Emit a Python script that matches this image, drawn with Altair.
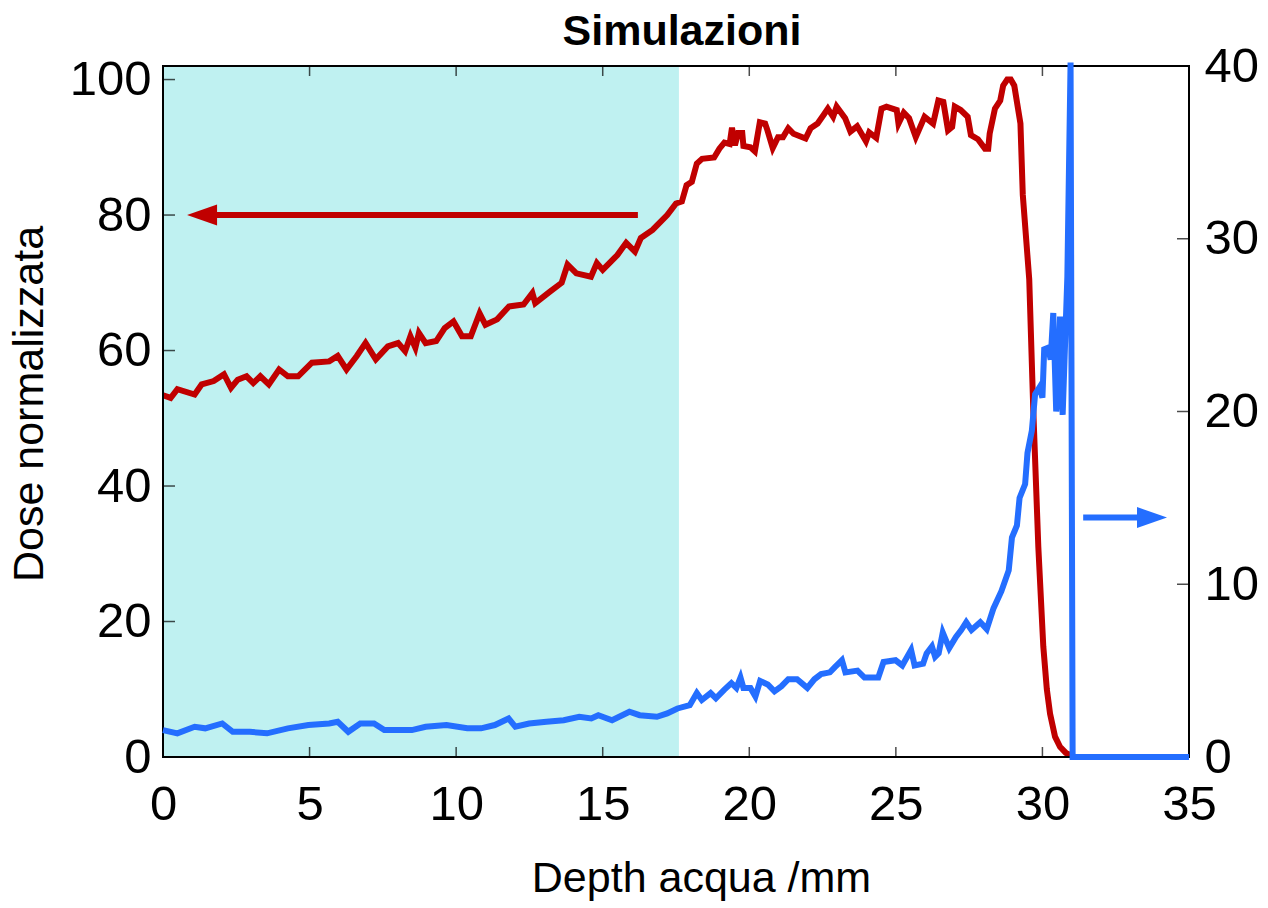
import altair as alt
import pandas as pd

# ---------------- data ----------------
depth_red = [0.0, 0.26, 0.49, 1.08, 1.32, 1.73, 2.08, 2.32, 2.55, 2.85,
             3.08, 3.32, 3.61, 3.96, 4.26, 4.61, 5.08, 5.67, 5.96, 6.26,
             6.61, 6.91, 7.26, 7.67, 8.02, 8.26, 8.44, 8.61, 8.73, 8.96,
             9.32, 9.61, 9.91, 10.2, 10.5, 10.8, 11.0, 11.4, 11.8, 12.3,
             12.6, 12.7, 13.2, 13.6, 13.8, 14.1, 14.6, 14.8, 15.0, 15.5,
             15.8, 16.1, 16.3, 16.7, 17.2, 17.5, 17.7, 17.86, 18.04, 18.21,
             18.39, 18.8, 18.98, 19.15, 19.33, 19.41, 19.51, 19.62, 19.76, 19.8,
             20.04, 20.19, 20.36, 20.54, 20.62, 20.8, 20.98, 21.15, 21.33, 21.51,
             21.92, 22.09, 22.33, 22.54, 22.68, 22.86, 22.98, 23.27, 23.45, 23.68,
             23.98, 24.09, 24.33, 24.51, 24.68, 25.03, 25.09, 25.27, 25.45, 25.68,
             25.98, 26.27, 26.45, 26.62, 26.78, 26.92, 27.01, 27.21, 27.45, 27.56,
             27.8, 28.04, 28.15, 28.2, 28.38, 28.56, 28.66, 28.8, 28.92, 29.04,
             29.25, 29.33, 29.55, 29.69, 29.86, 30.03, 30.15, 30.26, 30.43, 30.6,
             30.8, 31.0, 31.1]
dose_red = [53.4, 53.0, 54.3, 53.5, 55.0, 55.5, 56.5, 54.5, 55.7, 56.2,
            55.2, 56.2, 55.0, 57.2, 56.2, 56.2, 58.2, 58.4, 59.2, 57.2,
            59.2, 61.1, 58.7, 60.6, 61.1, 59.9, 62.1, 60.4, 62.6, 61.1,
            61.4, 63.3, 64.3, 62.1, 62.1, 65.5, 63.8, 64.6, 66.5, 66.8,
            68.5, 67.0, 68.7, 70.0, 72.7, 71.4, 70.9, 72.9, 71.9, 74.1,
            75.9, 74.6, 76.6, 77.8, 80.0, 81.7, 82.0, 84.4, 84.9, 87.6,
            88.3, 88.5, 89.8, 90.7, 90.5, 92.9, 90.3, 92.1, 92.1, 90.2,
            90.0, 89.4, 93.7, 93.5, 92.5, 89.9, 91.5, 91.5, 92.8, 92.0,
            91.3, 92.8, 93.5, 94.8, 95.7, 94.5, 96.0, 94.3, 92.3, 93.1,
            90.9, 92.2, 91.4, 95.7, 96.0, 95.5, 93.5, 95.1, 94.3, 91.5,
            94.5, 93.5, 96.9, 96.7, 92.5, 93.0, 96.0, 95.5, 94.5, 91.8,
            91.2, 89.8, 89.8, 92.0, 95.7, 96.9, 99.1, 100.0, 100.0, 99.1,
            93.5, 83.0, 70.5, 51.0, 31.0, 16.3, 10.0, 6.4, 3.0, 1.5,
            0.6, 0.2, 0.0]

depth_blue = [0.0, 0.49, 1.08, 1.44, 2.02, 2.38, 2.96, 3.55, 4.26, 4.96,
              5.67, 5.96, 6.32, 6.73, 7.2, 7.55, 8.49, 8.96, 9.67, 10.38,
              10.85, 11.32, 11.79, 12.02, 12.49, 13.08, 13.67, 14.2, 14.61, 14.85,
              15.32, 15.91, 16.26, 16.85, 17.2, 17.55, 17.97, 18.21, 18.38, 18.68,
              18.86, 19.15, 19.39, 19.56, 19.7, 19.8, 20.04, 20.21, 20.37, 20.63,
              20.86, 21.1, 21.33, 21.63, 21.98, 22.22, 22.45, 22.75, 22.92, 23.16,
              23.28, 23.69, 23.93, 24.4, 24.58, 24.99, 25.22, 25.52, 25.64, 25.93,
              26.05, 26.23, 26.34, 26.46, 26.6, 26.82, 27.05, 27.23, 27.4, 27.58,
              27.88, 28.1, 28.33, 28.6, 28.85, 28.96, 29.13, 29.22, 29.41, 29.49,
              29.64, 29.75, 29.9, 30.0, 30.06, 30.2, 30.28, 30.37, 30.47, 30.55,
              30.6, 30.69, 30.85, 30.96, 31.03, 35.0]
let_blue = [1.56, 1.37, 1.75, 1.66, 1.94, 1.46, 1.46, 1.37, 1.66, 1.85,
            1.94, 2.04, 1.46, 1.94, 1.94, 1.56, 1.56, 1.75, 1.85, 1.66,
            1.66, 1.85, 2.23, 1.75, 1.94, 2.04, 2.13, 2.33, 2.23, 2.42,
            2.13, 2.62, 2.42, 2.33, 2.52, 2.81, 3.0, 3.7, 3.3, 3.7,
            3.4, 3.9, 4.28, 4.0, 4.6, 4.0, 4.0, 3.5, 4.4, 4.2,
            3.8, 4.1, 4.5, 4.5, 4.0, 4.5, 4.8, 4.9, 5.2, 5.6,
            4.9, 5.0, 4.6, 4.6, 5.5, 5.6, 5.3, 6.2, 5.3, 5.4,
            6.0, 6.4, 5.8, 6.0, 7.2, 6.3, 6.95, 7.35, 7.8, 7.35,
            7.8, 7.4, 8.6, 9.6, 10.8, 12.7, 13.4, 15.0, 15.8, 17.6,
            18.9, 21.0, 21.4, 20.8, 23.6, 23.7, 23.0, 25.7, 20.0, 21.4,
            25.5, 19.8, 27.8, 40.2, 0.0, 0.0]

band_x = [0.0, 17.6]            # shaded region (mm)
x_ticks = [0, 5, 10, 15, 20, 25, 30, 35]
x_inner_ticks = [5, 10, 15, 20, 25, 30]
left_ticks = [0, 20, 40, 60, 80, 100]
right_ticks = [0, 10, 20, 30, 40]
red_arrow = {"tail": 16.2, "tip": 0.82, "level": 80}
blue_arrow = {"tail": 31.39, "tip": 34.25, "level": 13.86}
title_text = "Simulazioni"

# ---------------- styling ----------------
W, H = 1026, 691
FONT = "Liberation Sans"
RED = "#c00000"
BLUE = "#246eff"
CYAN = "#bff1f1"
LFS = 49   # tick labels
TFS = 43   # axis titles / title

xscale = alt.Scale(domain=[0, 35], nice=False, zero=False)
lscale = alt.Scale(domain=[0, 102], nice=False, zero=False)
rscale = alt.Scale(domain=[0, 40], nice=False, zero=False)

xaxis = alt.Axis(values=x_ticks, title="Depth acqua /mm", ticks=False, domain=False,
                 grid=False, labelFontSize=LFS, titleFontSize=TFS, labelFont=FONT,
                 titleFont=FONT, labelColor="black", titleColor="black",
                 titleFontWeight="normal", labelPadding=23, titlePadding=28,
                 titleX=W / 2 + 25, labelFlush=False)
laxis = alt.Axis(values=left_ticks, title="Dose normalizzata", orient="left", ticks=False,
                 domain=False, grid=False, labelFontSize=LFS, titleFontSize=TFS,
                 labelFont=FONT, titleFont=FONT, labelColor="black", titleColor="black",
                 titleFontWeight="normal", labelPadding=12, titlePadding=18,
                 titleY=H / 2 - 8, labelFlush=False)
raxis = alt.Axis(values=right_ticks, title=None, orient="right", ticks=False,
                 domain=False, grid=False, labelFontSize=LFS, labelFont=FONT,
                 labelColor="black", labelPadding=15, labelFlush=False)

X = alt.X("x:Q", scale=xscale, axis=xaxis)
YL = alt.Y("v:Q", scale=lscale, axis=laxis)
YR = alt.Y("v:Q", scale=rscale, axis=raxis)

# ---------------- left-axis group ----------------
band_df = pd.DataFrame({"x": [band_x[0]], "x2": [band_x[1]], "v": [0], "v2": [102]})
band = alt.Chart(band_df).mark_rect(color=CYAN, opacity=1).encode(
    x=X, x2="x2:Q", y=YL, y2="v2:Q")

red_df = pd.DataFrame({"x": depth_red, "v": dose_red})
red_line = alt.Chart(red_df).mark_line(color=RED, strokeWidth=6).encode(x=X, y=YL)

ra_df = pd.DataFrame({"x": [red_arrow["tip"] + 0.5], "x2": [red_arrow["tail"]],
                      "v": [red_arrow["level"]]})
red_shaft = alt.Chart(ra_df).mark_rule(color=RED, strokeWidth=6).encode(
    x=X, x2="x2:Q", y=YL)
rh_df = pd.DataFrame({"x": [red_arrow["tip"]], "v": [red_arrow["level"]]})
red_head = alt.Chart(rh_df).mark_point(
    shape="M0,0L2,-0.7L2,0.7Z", size=900, filled=True, color=RED, opacity=1,
    strokeWidth=0).encode(x=X, y=YL)

lt_df = pd.DataFrame({"v": left_ticks})
left_tk = alt.Chart(lt_df).mark_tick(color="black", size=12, thickness=1.5).encode(
    y=YL, x=alt.value(6))

bt_df = pd.DataFrame({"x": x_inner_ticks})
bottom_tk = alt.Chart(bt_df).mark_tick(color="black", size=10, thickness=1.5).encode(
    x=X, y=alt.value(H - 5))
top_tk = alt.Chart(bt_df).mark_tick(color="black", size=10, thickness=1.5).encode(
    x=X, y=alt.value(5))

frame = alt.Chart(pd.DataFrame({"a": [0]})).mark_rect(
    fillOpacity=0, stroke="black", strokeWidth=2).encode(
    x=alt.value(0), x2=alt.value(W), y=alt.value(0), y2=alt.value(H))

title_mark = alt.Chart(pd.DataFrame({"t": [title_text]})).mark_text(
    font=FONT, fontSize=TFS, fontWeight="bold", color="black", align="center",
    baseline="alphabetic").encode(
    text="t:N", x=alt.value(W / 2 + 6), y=alt.value(-21))

left_group = alt.layer(band, red_line, red_shaft, red_head, left_tk, bottom_tk,
                       top_tk, frame, title_mark)

# ---------------- right-axis group ----------------
blue_df = pd.DataFrame({"x": depth_blue, "v": let_blue})
blue_line = alt.Chart(blue_df).mark_line(color=BLUE, strokeWidth=6).encode(x=X, y=YR)

ba_df = pd.DataFrame({"x": [blue_arrow["tail"]], "x2": [blue_arrow["tip"] - 0.5],
                      "v": [blue_arrow["level"]]})
blue_shaft = alt.Chart(ba_df).mark_rule(color=BLUE, strokeWidth=6).encode(
    x=X, x2="x2:Q", y=YR)
bh_df = pd.DataFrame({"x": [blue_arrow["tip"]], "v": [blue_arrow["level"]]})
blue_head = alt.Chart(bh_df).mark_point(
    shape="M0,0L-2,-0.7L-2,0.7Z", size=900, filled=True, color=BLUE, opacity=1,
    strokeWidth=0).encode(x=X, y=YR)

rt_df = pd.DataFrame({"v": right_ticks})
right_tk = alt.Chart(rt_df).mark_tick(color="black", size=12, thickness=1.5).encode(
    y=YR, x=alt.value(W - 6))

right_group = alt.layer(right_tk, blue_line, blue_shaft, blue_head)

chart = alt.layer(left_group, right_group).resolve_scale(y="independent").properties(
    width=W, height=H,
    autosize=alt.AutoSizeParams(type="none"),
    padding={"left": 163, "top": 66, "right": 79, "bottom": 151},
).configure_view(stroke=None).configure(background="white")

chart.save("out.html", embed_options={"renderer": "svg", "actions": False})
